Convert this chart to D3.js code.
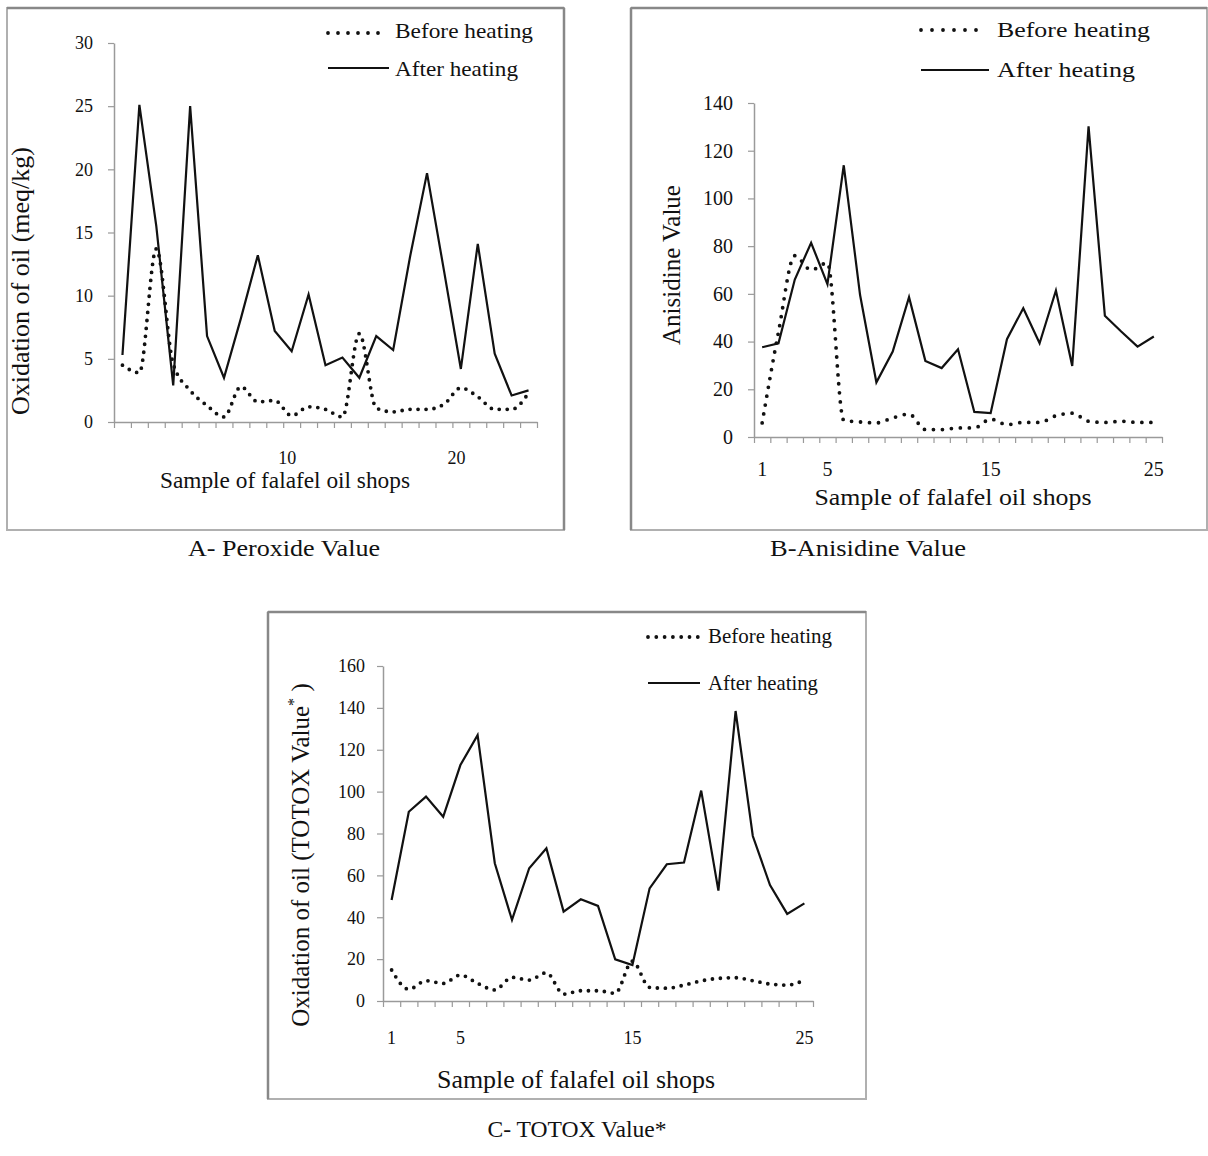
<!DOCTYPE html>
<html>
<head>
<meta charset="utf-8">
<script src="https://cdn.jsdelivr.net/npm/d3@7"></script>
<style>
  body { margin: 0; background: #fff; }
  text { font-family: "Liberation Serif", "Times New Roman", serif; fill: #111; }
</style>
</head>
<body>
<div id="chart"></div>
<script>
// shop numbers on the x axis
const shops = [1, 2, 3, 4, 5, 6, 7, 8, 9, 10, 11, 12, 13, 14, 15, 16, 17, 18, 19, 20, 21, 22, 23, 24, 25];

// A - peroxide value (meq/kg)
const peroxideBefore = [4.5, 3.9, 13.7, 4.6, 2.5, 1.3, 0.4, 2.8, 1.6, 1.7, 0.5, 1.2, 1.0, 0.4, 7.0, 1.1, 0.8, 1.0, 1.0, 1.4, 2.7, 2.0, 1.0, 1.0, 2.3];
const peroxideAfter = [5.3, 25.1, 15.5, 2.9, 25.0, 6.8, 3.5, 8.2, 13.2, 7.2, 5.6, 10.1, 4.5, 5.1, 3.5, 6.8, 5.7, 13.1, 19.7, 12.0, 4.2, 14.1, 5.4, 2.1, 2.5];
const peroxideTicks = [0, 5, 10, 15, 20, 25, 30];
const peroxideLabels = [10, 20];

// B - anisidine value
const anisidineBefore = [5.9, 44, 76, 70, 73, 7.0, 6.3, 5.9, 8.0, 9.6, 3.1, 3.1, 3.8, 3.8, 7.5, 5.2, 6.1, 6.1, 8.9, 10.0, 6.6, 6.1, 6.6, 6.1, 6.1];
const anisidineAfter = [37.6, 39.3, 66, 81.4, 64.1, 113.9, 59.5, 22.9, 35.8, 58.6, 31.9, 28.9, 36.8, 10.5, 10.0, 41.0, 54.0, 39.3, 61.4, 29.8, 130.2, 50.8, 44.2, 37.9, 42.1];
const anisidineTicks = [0, 20, 40, 60, 80, 100, 120, 140];
const anisidineLabels = [1, 5, 15, 25];

// C - TOTOX value
const totoxBefore = [14.8, 5.6, 9.7, 8.4, 12.4, 8.4, 5.3, 11.3, 10.0, 13.5, 3.3, 4.9, 4.9, 3.7, 19.0, 6.5, 6.1, 7.6, 9.6, 10.8, 11.1, 9.7, 8.1, 7.6, 10.0];
const totoxAfter = [48.2, 90.4, 97.6, 88.0, 112.7, 127.0, 65.8, 38.7, 63.4, 72.9, 42.7, 48.6, 45.4, 19.9, 17.2, 53.8, 65.3, 66.1, 100.5, 52.7, 138.5, 78.8, 55.4, 41.6, 46.6];
const totoxTicks = [0, 20, 40, 60, 80, 100, 120, 140, 160];
const totoxLabels = [1, 5, 15, 25];

const seriesNames = ["Before heating", "After heating"];

const svg = d3.select("#chart")
  .append("svg")
    .attr("width", 1208)
    .attr("height", 1156);

svg.append("rect").attr("width", 1208).attr("height", 1156).attr("fill", "#fff");

function drawPanel(p) {
  const f = p.frame;

  // outer box, with a darker edge on one side like the scanned figure
  svg.append("rect")
      .attr("x", f[0]).attr("y", f[1])
      .attr("width", f[2] - f[0]).attr("height", f[3] - f[1])
      .attr("fill", "none")
      .attr("stroke", "#b0b0b0")
      .attr("stroke-width", 2);
  svg.append("line")
      .attr("x1", f[p.darkSide === "right" ? 2 : 0]).attr("x2", f[p.darkSide === "right" ? 2 : 0])
      .attr("y1", f[1]).attr("y2", f[3])
      .attr("stroke", "#888")
      .attr("stroke-width", 2.5);
  svg.append("line")
      .attr("x1", f[0]).attr("x2", f[2])
      .attr("y1", f[1]).attr("y2", f[1])
      .attr("stroke", "#888")
      .attr("stroke-width", 2.5);

  const x = d3.scaleLinear()
      .domain([0.5, shops.length + 0.5])
      .range(p.xRange);

  const y = d3.scaleLinear()
      .domain([0, p.yMax])
      .range(p.yRange);

  // y axis
  const yAxis = svg.append("g")
      .attr("transform", `translate(${p.xRange[0]},0)`)
      .call(d3.axisLeft(y).tickValues(p.yTicks).tickSize(6).tickSizeOuter(0).tickPadding(p.yPad));
  yAxis.attr("font-size", p.tickSize);
  yAxis.select(".domain").attr("stroke", "#9a9a9a").attr("stroke-width", 1.5);
  yAxis.selectAll(".tick line").attr("stroke", "#9a9a9a").attr("stroke-width", 1.2);
  yAxis.selectAll(".tick text").attr("fill", "#111");

  // x axis: tick marks between the shops
  const edges = [0.5].concat(shops.map(d => d + 0.5));
  const xAxis = svg.append("g")
      .attr("transform", `translate(0,${p.yRange[0]})`)
      .call(d3.axisBottom(x).tickValues(edges).tickSize(6).tickSizeOuter(0).tickFormat(""));
  xAxis.select(".domain").attr("stroke", "#9a9a9a").attr("stroke-width", 1.5);
  xAxis.selectAll(".tick line").attr("stroke", "#9a9a9a").attr("stroke-width", 1.2);

  svg.append("g")
    .selectAll("text")
    .data(p.xLabels)
    .enter().append("text")
      .attr("x", d => x(d + p.xLabelShift))
      .attr("dx", p.xLabelDx)
      .attr("y", p.xLabelY)
      .attr("text-anchor", "middle")
      .attr("font-size", p.tickSize)
      .text(d => d);

  // series lines
  const lineAfter = d3.line()
      .x((d, i) => x(shops[i]))
      .y(d => y(d));

  const lineBefore = d3.line()
      .x((d, i) => x(shops[i]))
      .y(d => y(d))
      .curve(d3.curveMonotoneX);

  svg.append("path")
      .datum(p.after)
      .attr("d", lineAfter)
      .attr("fill", "none")
      .attr("stroke", "#111")
      .attr("stroke-width", 2.2)
      .attr("stroke-linejoin", "miter");

  svg.append("path")
      .datum(p.before)
      .attr("d", lineBefore)
      .attr("fill", "none")
      .attr("stroke", "#111")
      .attr("stroke-width", 3.8)
      .attr("stroke-linecap", "round")
      .attr("stroke-dasharray", `0 ${p.dotGap}`);

  // axis titles
  svg.append("text")
      .attr("x", p.xTitle.x)
      .attr("y", p.xTitle.y)
      .attr("text-anchor", "middle")
      .attr("font-size", p.xTitle.size)
      .attr("textLength", p.xTitle.len)
      .attr("lengthAdjust", "spacingAndGlyphs")
      .text("Sample of falafel oil shops");

  const yt = svg.append("text")
      .attr("transform", `translate(${p.yTitle.x},${p.yTitle.y}) rotate(-90)`)
      .attr("text-anchor", "middle")
      .attr("font-size", p.yTitle.size);
  if (p.yTitle.sup) {
    yt.append("tspan").text(p.yTitle.text);
    yt.append("tspan").attr("font-size", p.yTitle.size * 0.65).attr("dy", -10).text(p.yTitle.sup);
    yt.append("tspan").attr("dy", 10).text(p.yTitle.tail);
  } else {
    yt.text(p.yTitle.text);
  }

  // legend
  const lg = p.legend;
  svg.append("line")
      .attr("x1", lg.x1).attr("x2", lg.x2)
      .attr("y1", lg.y1).attr("y2", lg.y1)
      .attr("stroke", "#111")
      .attr("stroke-width", 3.8)
      .attr("stroke-linecap", "round")
      .attr("stroke-dasharray", `0 ${lg.dotGap}`);
  svg.append("line")
      .attr("x1", lg.x1).attr("x2", lg.x2 + 2)
      .attr("y1", lg.y2).attr("y2", lg.y2)
      .attr("stroke", "#111")
      .attr("stroke-width", 2.2);
  svg.append("text")
      .attr("x", lg.textX).attr("y", lg.b1)
      .attr("font-size", lg.size)
      .attr("textLength", lg.len1)
      .attr("lengthAdjust", "spacingAndGlyphs")
      .text(seriesNames[0]);
  svg.append("text")
      .attr("x", lg.textX).attr("y", lg.b2)
      .attr("font-size", lg.size)
      .attr("textLength", lg.len2)
      .attr("lengthAdjust", "spacingAndGlyphs")
      .text(seriesNames[1]);

  // caption under the box
  svg.append("text")
      .attr("x", p.caption.x)
      .attr("y", p.caption.y)
      .attr("text-anchor", "middle")
      .attr("font-size", 24)
      .attr("textLength", p.caption.len)
      .attr("lengthAdjust", "spacingAndGlyphs")
      .text(p.caption.text);
}

drawPanel({
  frame: [7, 8, 564, 530], darkSide: "right",
  xRange: [114, 537], yRange: [422, 43], yMax: 30,
  before: peroxideBefore, after: peroxideAfter,
  yTicks: peroxideTicks, xLabels: peroxideLabels,
  xLabelShift: 0.5, xLabelDx: 4, xLabelY: 464,
  tickSize: 18, yPad: 15, dotGap: 8,
  xTitle: { x: 285, y: 488, size: 23, len: 250 },
  yTitle: { x: 29, y: 281, size: 26, text: "Oxidation of oil (meq/kg)" },
  legend: { x1: 328, x2: 387, y1: 33, y2: 68, textX: 395, b1: 38, b2: 76, size: 21, len1: 138, len2: 123, dotGap: 10 },
  caption: { x: 284, y: 556, len: 192, text: "A- Peroxide Value" }
});

drawPanel({
  frame: [631, 8, 1207, 530], darkSide: "left",
  xRange: [754, 1162], yRange: [437, 103], yMax: 140,
  before: anisidineBefore, after: anisidineAfter,
  yTicks: anisidineTicks, xLabels: anisidineLabels,
  xLabelShift: 0, xLabelDx: 0, xLabelY: 476,
  tickSize: 20, yPad: 15, dotGap: 9,
  xTitle: { x: 953, y: 505, size: 24, len: 277 },
  yTitle: { x: 680, y: 265, size: 25, text: "Anisidine Value" },
  legend: { x1: 921, x2: 987, y1: 30, y2: 70, textX: 997, b1: 37, b2: 77, size: 22, len1: 153, len2: 138, dotGap: 11 },
  caption: { x: 868, y: 556, len: 196, text: "B-Anisidine Value" }
});

drawPanel({
  frame: [268, 612, 866, 1099], darkSide: "left",
  xRange: [383, 813], yRange: [1001, 666], yMax: 160,
  before: totoxBefore, after: totoxAfter,
  yTicks: totoxTicks, xLabels: totoxLabels,
  xLabelShift: 0, xLabelDx: 0, xLabelY: 1044,
  tickSize: 18, yPad: 12, dotGap: 8,
  xTitle: { x: 576, y: 1088, size: 25, len: 278 },
  yTitle: { x: 309, y: 855, size: 25, text: "Oxidation of oil (TOTOX Value", sup: "*", tail: " )" },
  legend: { x1: 648, x2: 698, y1: 637, y2: 683, textX: 708, b1: 643, b2: 690, size: 21, len1: 124, len2: 110, dotGap: 8.3 },
  caption: { x: 577, y: 1137, len: 179, text: "C- TOTOX Value*" }
});
</script>
</body>
</html>
